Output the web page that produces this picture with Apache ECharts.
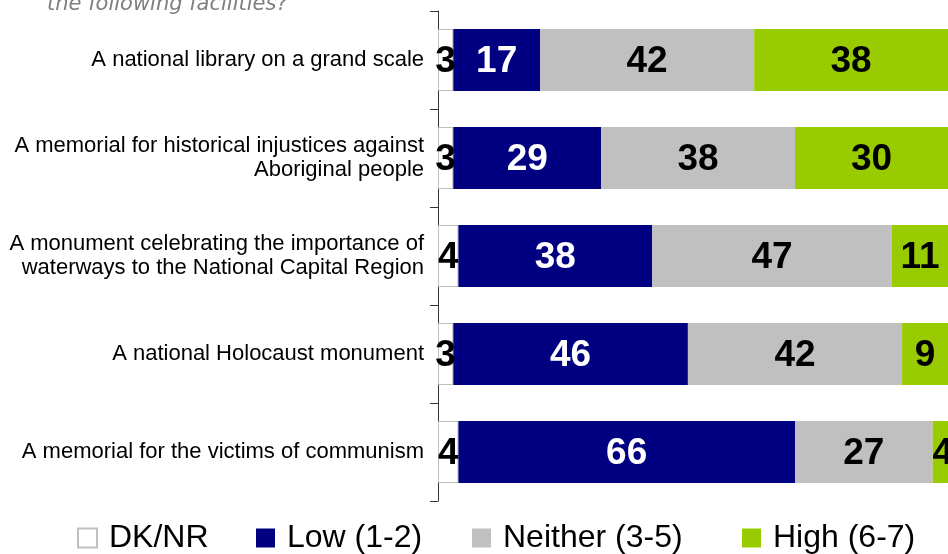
<!DOCTYPE html>
<html>
<head>
<meta charset="utf-8">
<script src="https://cdn.jsdelivr.net/npm/echarts@6/dist/echarts.min.js"></script>
<style>html,body{margin:0;padding:0;background:#fff;}#c{width:948px;height:554px;}</style>
</head>
<body>
<div id="c"></div>
<script>
var categories = [
  'A national library on a grand scale',
  'A memorial for historical injustices against\nAboriginal people',
  'A monument celebrating the importance of\nwaterways to the National Capital Region',
  'A national Holocaust monument',
  'A memorial for the victims of communism'
];
var seriesNames = ['DK/NR', 'Low (1-2)', 'Neither (3-5)', 'High (6-7)'];
var dknr    = [3, 3, 4, 3, 4];
var low     = [17, 29, 38, 46, 66];
var neither = [42, 38, 47, 42, 27];
var high    = [38, 30, 11, 9, 4];
var titleText = 'the following facilities?';

var colors = ['#ffffff', '#000080', '#c0c0c0', '#99cc00'];
var labelColors = ['#000', '#fff', '#000', '#000'];
var values = [dknr, low, neither, high];

var series = values.map(function (v, i) {
  return {
    name: seriesNames[i],
    type: 'bar',
    stack: 'total',
    barWidth: 62,
    clip: false,
    data: v,
    itemStyle: i === 0 ? { color: colors[i], borderColor: '#bfbfbf', borderWidth: 1 } : { color: colors[i] },
    label: {
      show: true,
      position: 'inside',
      offset: [0, 2],
      color: labelColors[i],
      fontFamily: 'Liberation Sans, Arial, sans-serif',
      fontWeight: 'bold',
      fontSize: 37
    },
    emphasis: { disabled: true },
    animation: false
  };
});

var legendLefts = [77, 256, 472, 742];
var legends = seriesNames.map(function (n, i) {
  return {
    data: [{ name: n, icon: 'rect' }],
    left: legendLefts[i],
    top: 522,
    padding: 0,
    itemWidth: 19,
    itemHeight: 19,
    itemGap: 0,
    selectedMode: false,
    textStyle: {
      fontFamily: 'Liberation Sans, Arial, sans-serif',
      fontSize: 32,
      color: '#000',
      padding: [0, 0, 0, 7]
    }
  };
});

var chart = echarts.init(document.getElementById('c'), null, { renderer: 'canvas' });
chart.setOption({
  animation: false,
  color: colors,
  legend: legends,
  grid: { left: 438, top: 11, width: 514, height: 490, containLabel: false },
  xAxis: { type: 'value', min: 0, max: 100, show: false },
  yAxis: {
    type: 'category',
    inverse: true,
    data: categories,
    axisLine: { show: true, lineStyle: { color: '#333333', width: 1 } },
    axisTick: { show: true, length: 8, lineStyle: { color: '#333333' } },
    axisLabel: {
      margin: 14,
      fontFamily: 'Liberation Sans, Arial, sans-serif',
      fontSize: 22,
      lineHeight: 24,
      color: '#000',
      align: 'right'
    }
  },
  graphic: [{
    type: 'text',
    left: 47,
    top: -6,
    style: {
      text: titleText,
      font: 'italic 21px "DejaVu Sans", sans-serif',
      fill: '#7f7f7f'
    }
  }],
  series: series
});
</script>
</body>
</html>
